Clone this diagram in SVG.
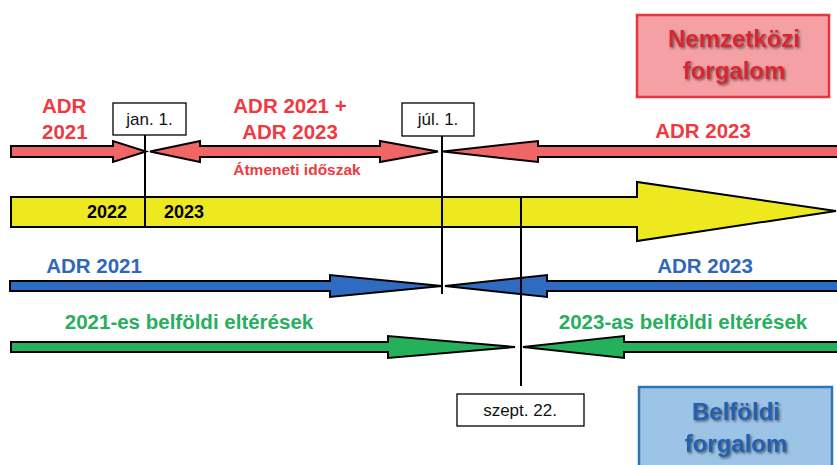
<svg xmlns="http://www.w3.org/2000/svg" width="837" height="465" viewBox="0 0 837 465">
<defs>
<filter id="sh" x="-10%" y="-10%" width="130%" height="140%">
<feDropShadow dx="1.5" dy="1.5" stdDeviation="0.8" flood-color="#333" flood-opacity="0.7"/>
</filter>
</defs>
<style>
.ar{stroke:#000;stroke-width:2;stroke-linejoin:miter}
.red{fill:#F06565}
.yel{fill:#EEE81E}
.blu{fill:#2F6BC0}
.grn{fill:#25B05C}
.t{font-family:"Liberation Sans",Arial,sans-serif;font-weight:bold}
.tr{fill:#EE3A40;font-size:20.5px}
.tb{fill:#3068B8;font-size:20.5px}
.tg{fill:#27AE5E;font-size:20.5px}
.lb{fill:#fff;stroke:#000;stroke-width:1.3}
.lt{font-family:"Liberation Sans",Arial,sans-serif;font-size:17px;fill:#111;text-anchor:middle}
.vl{stroke:#000;stroke-width:2;fill:none}
.big{font-family:"Liberation Sans",Arial,sans-serif;font-weight:bold;font-size:24px;text-anchor:middle}
</style>

<g id="connectors">
<polygon class="ar red" points="11,146 113,146 113,141 146,151.5 113,162 113,157 11,157"/>
<polygon class="ar red" points="150,151.5 200,141 200,146 380,146 380,141 438,151.5 380,162 380,157 200,157 200,162"/>
<polygon class="ar red" points="443,151.5 538,141 538,146 845,146 845,157 538,157 538,162"/>
<polygon class="ar yel" points="11,197 637,197 637,182 836,211 637,241 637,227 11,227"/>
<polygon class="ar blu" points="10,281 330,281 330,275 442,286 330,297 330,291 10,291"/>
<polygon class="ar blu" points="445,286 547,275 547,281 845,281 845,291 547,291 547,297"/>
<polygon class="ar grn" points="11,342 388,342 388,336 515,347 388,358 388,352 11,352"/>
<polygon class="ar grn" points="523,347 624,336 624,342 845,342 845,352 624,352 624,358"/>
<line class="vl" x1="145" y1="135" x2="145" y2="228"/>
<line class="vl" x1="442" y1="136" x2="442" y2="294"/>
<line class="vl" x1="521" y1="197" x2="521" y2="386"/>
</g>

<g id="node-nemzetkozi">
<rect x="637" y="15" width="192" height="82" fill="#F4A0A4" stroke="#E8353B" stroke-width="2.5"/>
<text class="big" x="734" y="47" fill="#D8282E" filter="url(#sh)">Nemzetközi</text>
<text class="big" x="734" y="79" fill="#D8282E" filter="url(#sh)">forgalom</text>
</g>

<g id="node-belfoldi">
<rect x="639" y="387" width="193" height="85" fill="#9DC3E6" stroke="#2E75B6" stroke-width="2.5"/>
<text class="big" x="736" y="420" fill="#2060B0" filter="url(#sh)">Belföldi</text>
<text class="big" x="736" y="452" fill="#2060B0" filter="url(#sh)">forgalom</text>
</g>

<g id="node-jan1">
<rect class="lb" x="113" y="103" width="73" height="32"/>
<text class="lt" x="149.5" y="125">jan. 1.</text>
</g>
<g id="node-jul1">
<rect class="lb" x="402" y="103" width="72" height="33"/>
<text class="lt" x="438" y="125">júl. 1.</text>
</g>
<g id="node-szept22">
<rect class="lb" x="457" y="394" width="127" height="32"/>
<text class="lt" x="520" y="416">szept. 22.</text>
</g>

<g id="labels">
<text class="t tr" x="42" y="113">ADR</text>
<text class="t tr" x="42" y="139">2021</text>
<text class="t tr" x="290" y="113" text-anchor="middle">ADR 2021 +</text>
<text class="t tr" x="290" y="139" text-anchor="middle">ADR 2023</text>
<text class="t" x="297" y="175" fill="#EE3A40" font-size="15.5" text-anchor="middle">Átmeneti időszak</text>
<text class="t tr" x="703" y="138" text-anchor="middle">ADR 2023</text>
<text class="t" x="107" y="218" font-size="18" fill="#000" text-anchor="middle">2022</text>
<text class="t" x="184" y="218" font-size="18" fill="#000" text-anchor="middle">2023</text>
<text class="t tb" x="94" y="272.5" text-anchor="middle">ADR 2021</text>
<text class="t tb" x="705" y="272.5" text-anchor="middle">ADR 2023</text>
<text class="t tg" x="189" y="329" text-anchor="middle">2021-es belföldi eltérések</text>
<text class="t tg" x="683" y="329" text-anchor="middle">2023-as belföldi eltérések</text>
</g>
</svg>
